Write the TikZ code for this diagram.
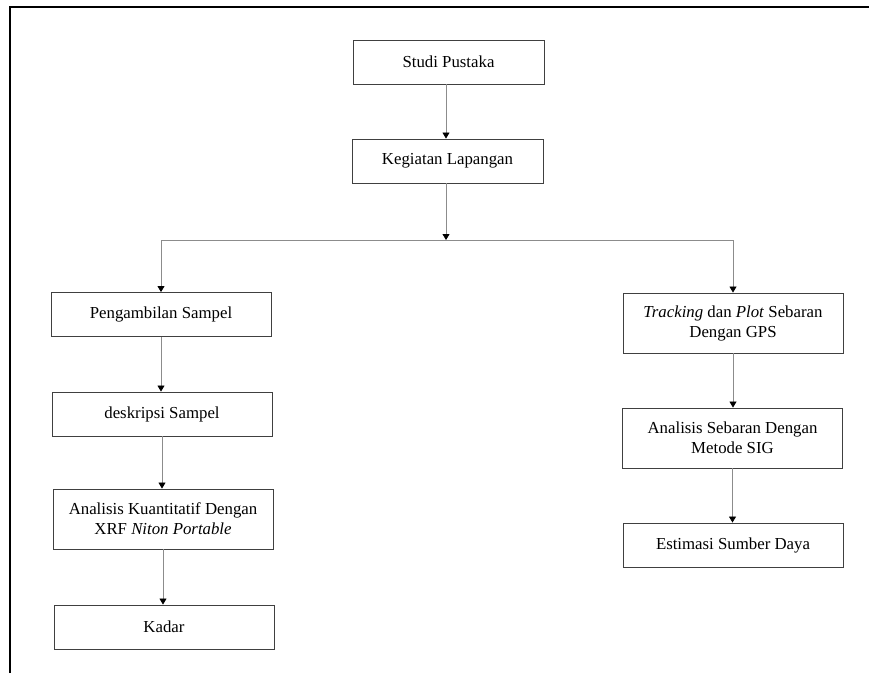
\documentclass[tikz,border=0pt]{standalone}
\usepackage{fontspec}
\setmainfont{Liberation Serif}
\usepackage{tikz}
\usetikzlibrary{arrows.meta, positioning, calc}

\tikzset{
    stepbox/.style={draw=black!75, line width=0.9pt, rectangle, align=center,
        inner sep=0pt, minimum width=220pt, minimum height=44pt,
        font=\fontsize{16.8}{20}\selectfont},
    tall/.style={minimum height=60pt},
    link/.style={draw=black!45, line width=0.8pt},
    flow/.style={link, -{Triangle[width=7pt,length=6pt,color=black]}}
}

\begin{document}
\begin{tikzpicture}[x=1pt, y=-1pt]
        \useasboundingbox (0,0) rectangle (869,673);
        \fill[white] (0,0) rectangle (869,673);

        % Frame
        \draw[line width=2pt] (10,673) -- (10,7) -- (869,7);

        % Top boxes
        \node[stepbox, minimum width=191pt] (studi) at (448.5,62) {Studi Pustaka};
        \node[stepbox, minimum width=191pt] (kegiatan) at (447.5,161) {Kegiatan Lapangan};

        % Left branch
        \node[stepbox] (ambil) at (161,314.5) {Pengambilan Sampel};
        \node[stepbox] (deskripsi) at (162,414) {deskripsi Sampel};
        \node[stepbox, tall] (kuanti) at (163,519) {Analisis Kuantitatif Dengan\\XRF \textit{Niton Portable}};
        \node[stepbox] (kadar) at (164,627) {Kadar};

        % Right branch
        \node[stepbox, tall] (tracking) at (733,323) {\textit{Tracking} dan \textit{Plot} Sebaran\\Dengan GPS};
        \node[stepbox, tall] (sig) at (732.5,438) {Analisis Sebaran Dengan\\Metode SIG};
        \node[stepbox] (estimasi) at (733,545) {Estimasi Sumber Daya};

        % Split point
        \coordinate (split) at (446,240);
        \coordinate (splitL) at (ambil.north |- split);
        \coordinate (splitR) at (tracking.north |- split);

        % Draw arrows
        \draw[flow] (studi.south -| split) -- (kegiatan.north -| split);
        \draw[flow] (kegiatan.south -| split) -- (split);
        \draw[link] (splitL) -- (splitR);
        \draw[flow] (splitL) -- (ambil.north);
        \draw[flow] (splitR) -- (tracking.north);
        \draw[flow] (ambil.south) -- (ambil.south |- deskripsi.north);
        \draw[flow] (deskripsi.south) -- (deskripsi.south |- kuanti.north);
        \draw[flow] (kuanti.south) -- (kuanti.south |- kadar.north);
        \draw[flow] (tracking.south) -- (tracking.south |- sig.north);
        \draw[flow] (sig.south) -- (sig.south |- estimasi.north);
    \end{tikzpicture}
\end{document}
